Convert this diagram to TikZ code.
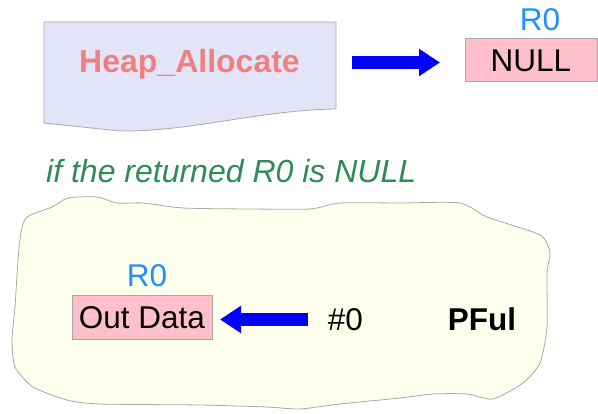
\documentclass[tikz,border=0pt]{standalone}
\usepackage{fontspec}
\setmainfont{Liberation Sans}
\usetikzlibrary{arrows.meta}
\definecolor{docfill}{HTML}{E4E4F8}
\definecolor{edgegray}{HTML}{A8A8A8}
\definecolor{heapred}{HTML}{F08080}
\definecolor{regblue}{HTML}{1E90FF}
\definecolor{condgreen}{HTML}{2E8B57}
\definecolor{cloudfill}{HTML}{FFFFEE}
\definecolor{boxpink}{HTML}{FFC0CB}
\tikzset{
  big/.style={font=\fontsize{31.5}{36}\selectfont},
  regbox/.style={draw=edgegray, line width=1pt, fill=boxpink, inner sep=0pt, big},
  reglabel/.style={text=regblue, anchor=base, big},
  blockarrow/.style={draw=blue, line width=13pt, -{Triangle[width=26pt,length=21pt]}},
}
\begin{document}
\begin{tikzpicture}[x=1pt,y=-1pt]
\useasboundingbox (0,0) rectangle (598,414);
% document shape
\draw[draw=edgegray, fill=docfill, line width=0.8pt]
  (44,22) -- (336,22) -- (336,109)
  .. controls (260,110) and (190,132) .. (120,131)
  -- (44,123) -- cycle;
\node[anchor=base, text=heapred, font=\fontsize{32}{36}\selectfont\bfseries] (heap) at (189.5,73) {Heap\_Allocate};
% arrow 1
\coordinate (a1s) at (352,62.5);
\coordinate (a1e) at (440,62.5);
\draw[blockarrow] (a1s) -- (a1e);
% NULL box
\node[regbox, minimum width=132pt, minimum height=43pt] (null) at (531,60.5) {NULL};
\node[reglabel] (r0a) at (540,31) {R0};
% condition
\node[anchor=base west, inner sep=0pt, text=condgreen, font=\fontsize{32}{36}\selectfont\itshape] (cond) at (46,183) {if the returned R0 is NULL};
% cloud
\draw[draw=edgegray, fill=cloudfill, line width=0.8pt]
  plot[smooth cycle, tension=0.4] coordinates {
  (27,217) (52,207) (68,198) (97,197) (117,203) (143,203) (183,208) (250,209)
  (310,209) (340,203) (400,203) (460,203) (487,217) (540,235) (550,253)
  (547,273) (547,327) (540,363) (523,383) (493,399) (467,394) (433,394)
  (400,398) (340,404) (300,409) (267,407) (200,405) (100,404) (67,400)
  (33,387) (15,367) (12,340) (15,307) (18,260) (21,232)};
% Out Data
\node[regbox, minimum width=140pt, minimum height=44pt] (out) at (142,318) {Out Data};
\node[reglabel] (r0b) at (147,287) {R0};
\coordinate (a2s) at (308,319.5);
\coordinate (a2e) at (220,319.5);
\draw[blockarrow] (a2s) -- (a2e);
\node[anchor=base, big] (zero) at (345.5,331) {\#0};
\node[anchor=base, font=\fontsize{31.5}{36}\selectfont\bfseries] (pful) at (482,331) {PFul};
\end{tikzpicture}
\end{document}
